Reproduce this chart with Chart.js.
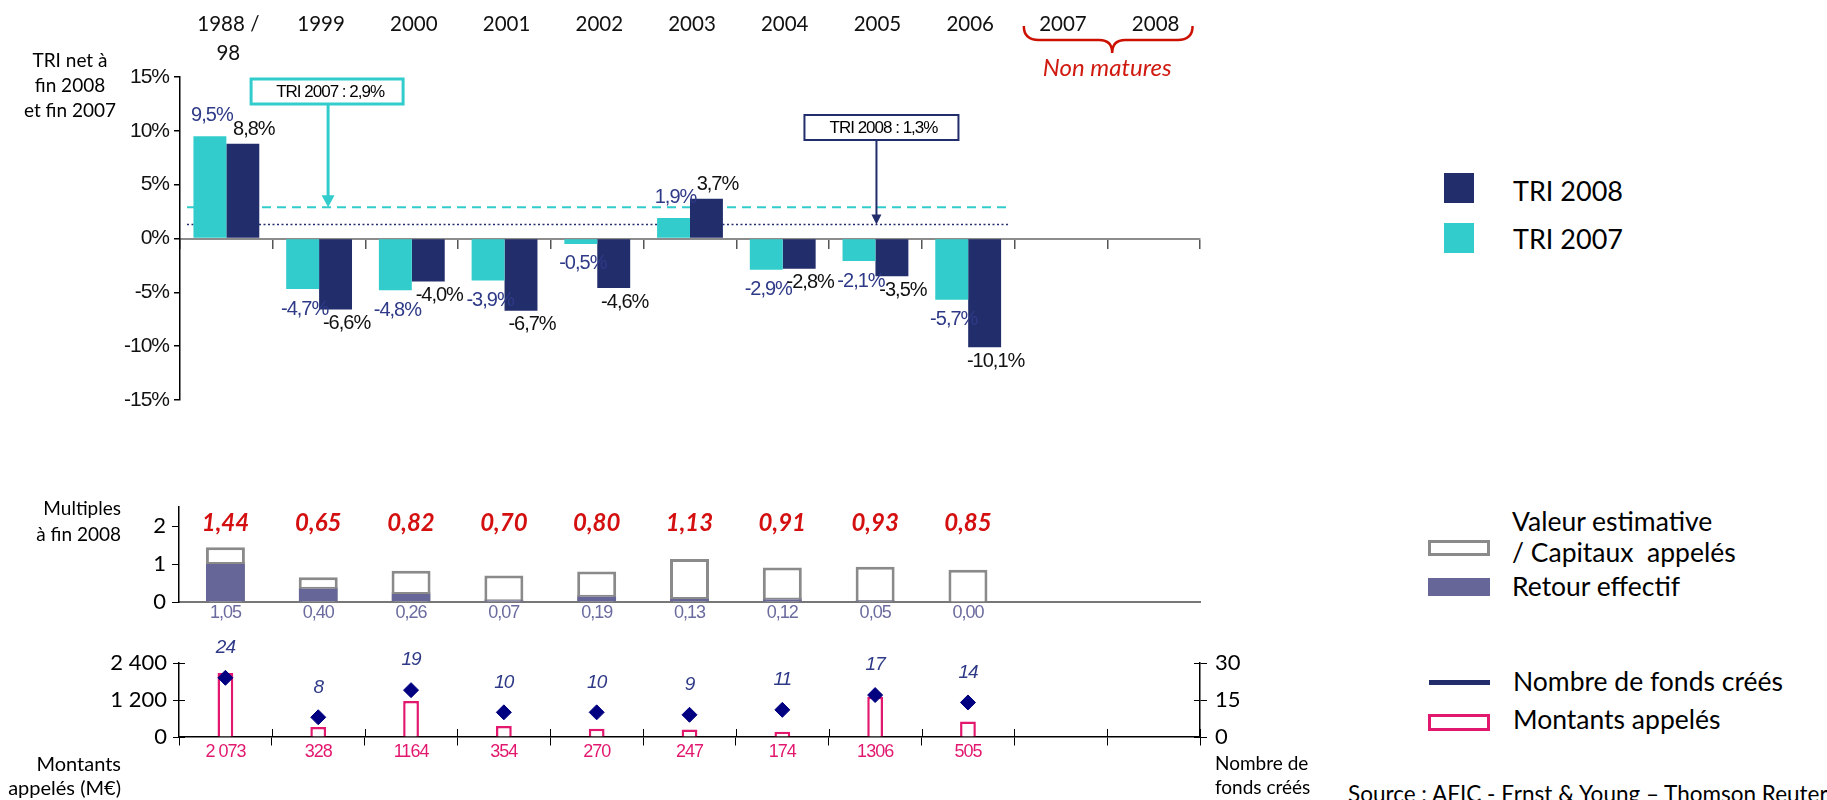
<!DOCTYPE html>
<html><head><meta charset="utf-8">
<script src="https://cdn.jsdelivr.net/npm/chart.js@4.4.0/dist/chart.umd.min.js"></script>
<style>
body{margin:0;background:#fff;width:1827px;height:800px;overflow:hidden;position:relative;font-family:Lato,sans-serif;color:#000}
canvas{position:absolute;left:0}
.t{position:absolute;white-space:nowrap}
.sw{position:absolute;box-sizing:border-box}
</style></head><body>
<canvas id="c1" width="1230" height="430" style="top:0px"></canvas>
<canvas id="c2" width="1230" height="150" style="top:480px"></canvas>
<canvas id="c3" width="1260" height="160" style="top:640px"></canvas>

<div class="t" style="left:0;width:140px;top:47px;text-align:center;font-size:19px;line-height:25px">TRI net à<br>fin 2008<br>et fin 2007</div>
<div class="t" style="left:0;width:121px;top:495px;text-align:right;font-size:19px;line-height:26px">Multiples<br>à fin 2008</div>
<div class="t" style="left:0;width:121px;top:751px;text-align:right;font-size:20px;line-height:24px">Montants<br>appelés (M€)</div>
<div class="t" style="left:1215px;top:751px;text-align:left;font-size:19px;line-height:24px">Nombre de<br>fonds créés</div>

<div class="sw" style="left:1444px;top:173px;width:30px;height:30px;background:#222d6b"></div>
<div class="t" style="left:1513px;top:173px;font-size:27px;line-height:36px">TRI 2008</div>
<div class="sw" style="left:1444px;top:223px;width:30px;height:30px;background:#33cccc"></div>
<div class="t" style="left:1513px;top:221px;font-size:27px;line-height:36px">TRI 2007</div>

<div class="sw" style="left:1428px;top:540px;width:62px;height:16px;border:3px solid #8a8a8a;background:#fff"></div>
<div class="t" style="left:1512px;top:506px;font-size:26.5px;line-height:31px">Valeur estimative<br>/ Capitaux&nbsp; appelés</div>
<div class="sw" style="left:1428px;top:578px;width:62px;height:18px;background:#666699"></div>
<div class="t" style="left:1512px;top:570px;font-size:26.5px;line-height:32px">Retour effectif</div>
<div class="sw" style="left:1429px;top:680px;width:61px;height:5px;background:#222d6b"></div>
<div class="t" style="left:1513px;top:665px;font-size:26.5px;line-height:32px">Nombre de fonds créés</div>
<div class="sw" style="left:1428px;top:714px;width:62px;height:17px;border:3px solid #e2186f;background:#fff"></div>
<div class="t" style="left:1513px;top:703px;font-size:26.5px;line-height:32px">Montants appelés</div>
<div class="t" style="left:1348px;top:781px;font-size:22.5px;line-height:26px">Source : AFIC - Ernst &amp; Young – Thomson Reuters</div>

<script>
// ---------- DATA ----------
const categories = [['1988 /','98'],'1999','2000','2001','2002','2003','2004','2005','2006','2007','2008'];
const tri2007 = [9.5, -4.7, -4.8, -3.9, -0.5, 1.9, -2.9, -2.1, -5.7, null, null];
const tri2008 = [8.8, -6.6, -4.0, -6.7, -4.6, 3.7, -2.8, -3.5, -10.1, null, null];
const tri2007Avg = 2.9;
const tri2008Avg = 1.3;
const multiples = [1.44, 0.65, 0.82, 0.70, 0.80, 1.13, 0.91, 0.93, 0.85, null, null];
const retourEffectif = [1.05, 0.40, 0.26, 0.07, 0.19, 0.13, 0.12, 0.05, 0.00, null, null];
const montantsAppeles = [2073, 328, 1164, 354, 270, 247, 174, 1306, 505, null, null];
const montantsLabels = ['2 073','328','1164','354','270','247','174','1306','505'];
const nombreFonds = [24, 8, 19, 10, 10, 9, 11, 17, 14, null, null];
const nonMaturesLabel = 'Non matures';

// ---------- STYLE ----------
const TEAL = '#33cccc', NAVY = '#222d6b', LBLBLUE = '#2e3a87', PINK = '#e2186f', RED = '#d40f0f';
const pct = v => v.toFixed(1).replace('.', ',') + '%';
const dec2 = v => v.toFixed(2).replace('.', ',');
const thousands = v => String(v).replace(/\B(?=(\d{3})+(?!\d))/g, ' ');

function txt(ctx, s, x, y, font, color, spacing, align) {
  ctx.save();
  ctx.font = font; ctx.fillStyle = color;
  ctx.letterSpacing = spacing || '0px';
  ctx.textAlign = align || 'center'; ctx.textBaseline = 'middle';
  ctx.fillText(s, x, y);
  ctx.restore();
}
function arrow(ctx, x, y0, y1, color, w, hw, hh) {
  ctx.save();
  ctx.strokeStyle = color; ctx.fillStyle = color; ctx.lineWidth = w; ctx.setLineDash([]);
  ctx.beginPath(); ctx.moveTo(x, y0); ctx.lineTo(x, y1 - hh + 1); ctx.stroke();
  ctx.beginPath(); ctx.moveTo(x - hw, y1 - hh); ctx.lineTo(x + hw, y1 - hh); ctx.lineTo(x, y1); ctx.closePath(); ctx.fill();
  ctx.restore();
}

const common = { responsive: false, animation: false, devicePixelRatio: 1,
  plugins: { legend: { display: false }, tooltip: { enabled: false } } };

// ---------- TOP CHART ----------
const topDecor = {
  id: 'topDecor',
  beforeDraw(chart) { chart.ctx.letterSpacing = '-1px'; },
  beforeDatasetsDraw(chart) {
    const { ctx, chartArea: ca, scales: { x, y } } = chart;
    const cw = x.getPixelForValue(1) - x.getPixelForValue(0);
    const xs = ca.left + 7, xe = x.getPixelForValue(8) + cw * 0.43;
    const y7 = y.getPixelForValue(tri2007Avg), y8 = y.getPixelForValue(tri2008Avg);
    ctx.save();
    ctx.strokeStyle = TEAL; ctx.lineWidth = 2; ctx.setLineDash([9, 6]);
    ctx.beginPath(); ctx.moveTo(xs, y7); ctx.lineTo(xe, y7); ctx.stroke();
    ctx.strokeStyle = NAVY; ctx.lineWidth = 1.5; ctx.setLineDash([2, 2.5]);
    ctx.beginPath(); ctx.moveTo(xs, y8); ctx.lineTo(xe, y8); ctx.stroke();
    ctx.restore();
  },
  afterDraw(chart) {
    const { ctx, scales: { x, y } } = chart;
    ctx.letterSpacing = '0px';
    const cw = x.getPixelForValue(1) - x.getPixelForValue(0);
    const y7 = y.getPixelForValue(tri2007Avg), y8 = y.getPixelForValue(tri2008Avg);
    // bar labels
    const m7 = chart.getDatasetMeta(0), m8 = chart.getDatasetMeta(1);
    tri2007.forEach((v, i) => {
      if (v == null) return;
      const el = m7.data[i];
      txt(ctx, pct(v), el.x + 2, v >= 0 ? el.y - 21 : el.y + 20, '20px "Liberation Sans"', LBLBLUE, '-1px');
    });
    tri2008.forEach((v, i) => {
      if (v == null) return;
      const el = m8.data[i];
      txt(ctx, pct(v), el.x + 11, v >= 0 ? el.y - 14 : el.y + 14, '20px "Liberation Sans"', '#111', '-1px');
    });
    // annotation boxes
    const a7 = x.getPixelForValue(1) + 9, a8 = x.getPixelForValue(7) + 1;
    ctx.save();
    ctx.fillStyle = '#fff';
    ctx.fillRect(a7 - 77, 79, 152, 25);
    ctx.strokeStyle = TEAL; ctx.lineWidth = 3; ctx.strokeRect(a7 - 77, 79, 152, 25);
    ctx.fillRect(a8 - 72, 115, 154, 25);
    ctx.strokeStyle = NAVY; ctx.lineWidth = 2; ctx.strokeRect(a8 - 72, 115, 154, 25);
    ctx.restore();
    txt(ctx, 'TRI 2007 : ' + pct(tri2007Avg), a7 + 2, 92, '17px "Liberation Sans"', '#000', '-1px');
    txt(ctx, 'TRI 2008 : ' + pct(tri2008Avg), a8 + 7, 128, '17px "Liberation Sans"', '#000', '-1px');
    arrow(ctx, a7, 105, y7, TEAL, 3, 6.5, 12);
    arrow(ctx, a8, 141, y8, NAVY, 2, 5, 10);
    // year labels
    categories.forEach((c, i) => {
      const px = x.getPixelForValue(i) + 2;
      (Array.isArray(c) ? c : [c]).forEach((l, k) => txt(ctx, l, px, 24 + k * 29, '20.5px Lato', '#111'));
    });
    // bracket "Non matures"
    const bl = x.getPixelForValue(9) - cw * 0.4, br = x.getPixelForValue(10) + cw * 0.42, bm = (bl + br) / 2 + 4;
    ctx.save();
    ctx.strokeStyle = '#cc1100'; ctx.lineWidth = 2.5;
    ctx.beginPath();
    ctx.moveTo(bl, 26);
    ctx.quadraticCurveTo(bl, 40, bl + 15, 40);
    ctx.lineTo(bm - 13, 40);
    ctx.quadraticCurveTo(bm, 40, bm, 53);
    ctx.quadraticCurveTo(bm, 40, bm + 13, 40);
    ctx.lineTo(br - 15, 40);
    ctx.quadraticCurveTo(br, 40, br, 26);
    ctx.stroke();
    ctx.restore();
    txt(ctx, nonMaturesLabel, bm - 5, 68, 'italic 24px Lato', '#d01a10');
  }
};

new Chart(document.getElementById('c1'), {
  type: 'bar',
  data: { labels: categories, datasets: [
    { label: 'TRI 2007', data: tri2007, backgroundColor: TEAL, categoryPercentage: 0.71, barPercentage: 1 },
    { label: 'TRI 2008', data: tri2008, backgroundColor: NAVY, categoryPercentage: 0.71, barPercentage: 1 }
  ]},
  options: Object.assign({}, common, {
    layout: { padding: { left: 0, right: 30, top: 77, bottom: 30 } },
    scales: {
      x: { position: { y: 0 }, offset: true,
           grid: { offset: true, drawOnChartArea: false, drawTicks: true, tickLength: 9, color: '#555', lineWidth: 1.5 },
           border: { display: true, color: '#8c8c8c', width: 2 }, ticks: { display: false } },
      y: { min: -15, max: 15,
           ticks: { stepSize: 5, callback: v => v + '%', font: { family: 'Liberation Sans', size: 21 }, color: '#111', padding: 5 },
           grid: { drawOnChartArea: false, tickLength: 6, color: '#000', lineWidth: 1.5 },
           border: { color: '#000', width: 1.5 },
           afterFit(s) { s.width = 180; } }
    }
  }),
  plugins: [topDecor]
});

// ---------- MIDDLE CHART ----------
const midDecor = {
  id: 'midDecor',
  afterDraw(chart) {
    const { ctx, chartArea: ca, scales: { x } } = chart;
    multiples.forEach((v, i) => {
      if (v == null) return;
      txt(ctx, dec2(v), x.getPixelForValue(i), ca.top + 16, 'italic bold 24px Lato', RED);
    });
    retourEffectif.forEach((v, i) => {
      if (v == null) return;
      txt(ctx, dec2(v), x.getPixelForValue(i), ca.bottom + 11, '18px "Liberation Sans"', '#6b6b9f', '-1px');
    });
  }
};
new Chart(document.getElementById('c2'), {
  type: 'bar',
  data: { labels: categories, datasets: [
    { label: 'Retour effectif', data: retourEffectif, backgroundColor: '#666699', borderColor: '#8a8a8a',
      borderWidth: { top: 2, left: 0, right: 0, bottom: 0 }, borderSkipped: false,
      barPercentage: 0.42, categoryPercentage: 1, order: 1 },
    { label: 'Valeur estimative / Capitaux appelés', data: multiples, backgroundColor: '#fff', borderColor: '#8a8a8a',
      borderWidth: 3, borderSkipped: 'bottom', barPercentage: 0.42, categoryPercentage: 1, order: 2 }
  ]},
  options: Object.assign({}, common, {
    layout: { padding: { left: 0, right: 30, top: 27, bottom: 28 } },
    scales: {
      x: { stacked: true, position: { y: 0 }, offset: true, grid: { display: false },
           border: { display: true, color: '#777', width: 2 }, ticks: { display: false } },
      y: { min: 0, max: 2.5,
           ticks: { stepSize: 1, includeBounds: false, font: { family: 'Lato', size: 22 }, color: '#000', padding: 6 },
           grid: { drawOnChartArea: false, tickLength: 7, color: '#000' },
           border: { color: '#000', width: 1.5 },
           afterFit(s) { s.width = 179; } }
    }
  }),
  plugins: [midDecor]
});

// ---------- BOTTOM CHART ----------
const botDecor = {
  id: 'botDecor',
  afterDraw(chart) {
    const { ctx, chartArea: ca, scales: { x, y, y2 } } = chart;
    const cw = x.getPixelForValue(1) - x.getPixelForValue(0);
    ctx.save();
    ctx.strokeStyle = '#000'; ctx.lineWidth = 1;
    ctx.beginPath();
    for (let i = 1; i <= categories.length; i++) {
      const bx = Math.round(x.getPixelForValue(i - 1) + cw / 2) + 0.5;
      ctx.moveTo(bx, ca.bottom); ctx.lineTo(bx, ca.bottom - 8);
    }
    y.ticks.forEach(t => { const py = Math.round(y.getPixelForValue(t.value)) + 0.5; ctx.moveTo(ca.left, py); ctx.lineTo(ca.left + 6, py); });
    y2.ticks.forEach(t => { const py = Math.round(y2.getPixelForValue(t.value)) + 0.5; ctx.moveTo(ca.right, py); ctx.lineTo(ca.right - 6, py); });
    ctx.stroke();
    ctx.restore();
    montantsLabels.forEach((s, i) => txt(ctx, s, x.getPixelForValue(i), ca.bottom + 15, '18px "Liberation Sans"', PINK, '-1px'));
    const mp = chart.getDatasetMeta(0);
    nombreFonds.forEach((v, i) => {
      if (v == null) return;
      const el = mp.data[i];
      txt(ctx, String(v), el.x, el.y - 30, 'italic 19px "Liberation Sans"', LBLBLUE, '-1px');
    });
  }
};
new Chart(document.getElementById('c3'), {
  type: 'bar',
  data: { labels: categories, datasets: [
    { type: 'line', label: 'Nombre de fonds créés', data: nombreFonds, yAxisID: 'y2', showLine: false,
      pointStyle: 'rectRot', pointRadius: 7.5, pointBackgroundColor: '#000080', pointBorderColor: '#000080', pointBorderWidth: 1, order: 0 },
    { label: 'Montants appelés', data: montantsAppeles, yAxisID: 'y', backgroundColor: '#fff', borderColor: PINK,
      borderWidth: 2.5, borderSkipped: 'bottom', barPercentage: 0.17, categoryPercentage: 1, order: 1 }
  ]},
  options: Object.assign({}, common, {
    layout: { padding: { left: 0, right: 0, top: 23, bottom: 63 } },
    scales: {
      x: { position: { y: 0 }, offset: true,
           grid: { offset: true, drawOnChartArea: false, drawTicks: true, tickLength: 8, color: '#000', lineWidth: 1 },
           border: { display: true, color: '#000', width: 1.5 }, ticks: { display: false } },
      y: { position: 'left', min: 0, max: 2400,
           ticks: { stepSize: 1200, callback: v => thousands(v), font: { family: 'Lato', size: 22 }, color: '#000', padding: 6 },
           grid: { drawOnChartArea: false, tickLength: 6, color: '#000' },
           border: { color: '#000', width: 1.5 },
           afterFit(s) { s.width = 179; } },
      y2: { position: 'right', min: 0, max: 30,
           ticks: { stepSize: 15, font: { family: 'Lato', size: 22 }, color: '#000', padding: 8 },
           grid: { drawOnChartArea: false, tickLength: 7, color: '#000' },
           border: { color: '#000', width: 1.5 },
           afterFit(s) { s.width = 60; } }
    }
  }),
  plugins: [botDecor]
});
</script>
</body></html>
